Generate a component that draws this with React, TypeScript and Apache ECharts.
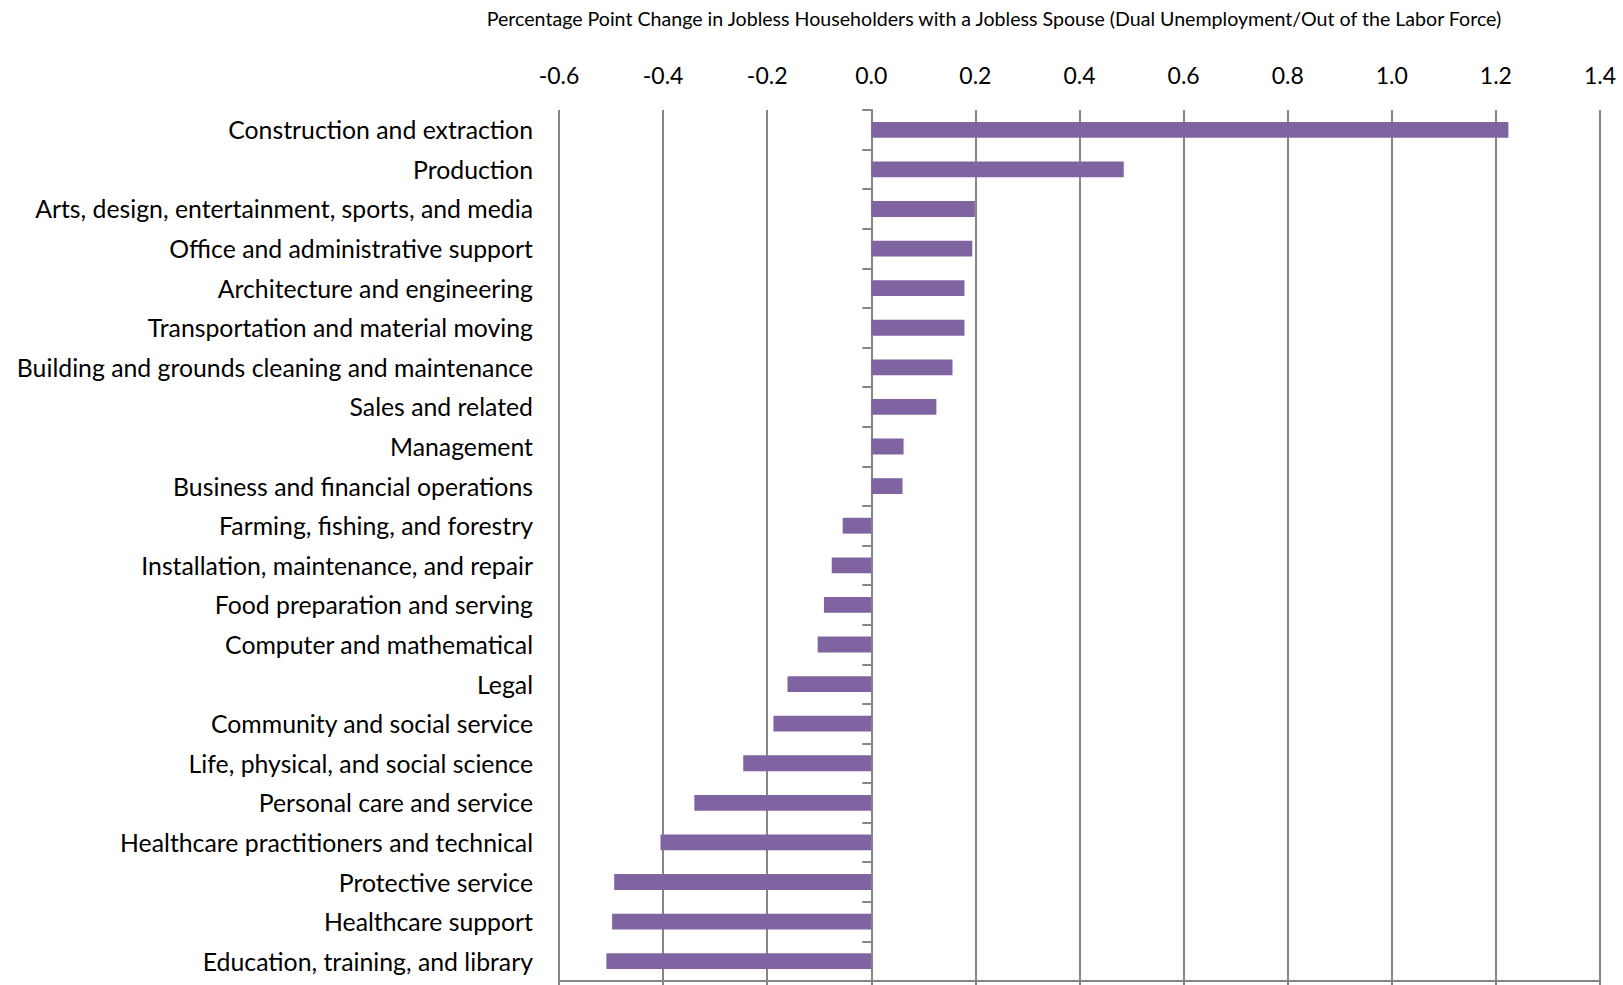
import React, { useEffect, useRef } from "react";
import * as echarts from "echarts";

const TITLE =
  "Percentage Point Change in Jobless Householders with a Jobless Spouse (Dual Unemployment/Out of the Labor Force)";

const categories = [
  "Construction and extraction",
  "Production",
  "Arts, design, entertainment, sports, and media",
  "Office and administrative support",
  "Architecture and engineering",
  "Transportation and material moving",
  "Building and grounds cleaning and maintenance",
  "Sales and related",
  "Management",
  "Business and financial operations",
  "Farming, fishing, and forestry",
  "Installation, maintenance, and repair",
  "Food preparation and serving",
  "Computer and mathematical",
  "Legal",
  "Community and social service",
  "Life, physical, and social science",
  "Personal care and service",
  "Healthcare practitioners and technical",
  "Protective service",
  "Healthcare support",
  "Education, training, and library",
];

const changeValues = [
  1.224, 0.485, 0.199, 0.194, 0.179, 0.179, 0.156, 0.125, 0.062, 0.06,
  -0.055, -0.076, -0.091, -0.103, -0.161, -0.188, -0.246, -0.34, -0.405,
  -0.494, -0.498, -0.509,
];

const axisMin = -0.6;
const axisMax = 1.4;
const axisStep = 0.2;

const FONT = "Lato";
const GRAY = "#868686";
const BAR = "#8064A2";

export default function App() {
  const ref = useRef<HTMLDivElement>(null);

  useEffect(() => {
    if (!ref.current) return;
    const chart = echarts.init(ref.current, undefined, { renderer: "svg" });
    chart.setOption({
      animation: false,
      backgroundColor: "#ffffff",
      textStyle: { fontFamily: FONT },
      graphic: [
        {
          type: "text",
          x: 994,
          y: 18,
          style: {
            text: TITLE,
            fontFamily: FONT,
            fontSize: 19.6,
            fill: "#000",
            align: "center",
            verticalAlign: "middle",
          },
        },
      ],
      grid: { left: 559, right: 23, top: 110, bottom: 4, containLabel: false },
      xAxis: [
        {
          type: "value",
          position: "top",
          min: axisMin,
          max: axisMax,
          interval: axisStep,
          axisLabel: {
            formatter: (v: number) => v.toFixed(1),
            fontSize: 23,
            color: "#000",
            fontFamily: FONT,
            margin: 24,
          },
          axisLine: { show: false },
          axisTick: { show: false },
          splitLine: { show: true, lineStyle: { color: GRAY, width: 2 } },
        },
        {
          type: "value",
          position: "bottom",
          min: axisMin,
          max: axisMax,
          interval: axisStep,
          axisLabel: { show: false },
          axisLine: { show: true, onZero: false, lineStyle: { color: GRAY, width: 2 } },
          axisTick: { show: true, length: 5, lineStyle: { color: GRAY, width: 2 } },
          splitLine: { show: false },
        },
      ],
      yAxis: [
        {
          type: "category",
          inverse: true,
          position: "left",
          data: categories,
          axisLabel: {
            fontSize: 24.8,
            color: "#000",
            fontFamily: FONT,
            margin: 26,
          },
          axisLine: { show: false },
          axisTick: { show: false },
          splitLine: { show: false },
        },
        {
          type: "category",
          inverse: true,
          position: "left",
          data: categories,
          axisLabel: { show: false },
          axisLine: {
            show: true,
            onZero: true,
            onZeroAxisIndex: 0,
            lineStyle: { color: GRAY, width: 2 },
          },
          axisTick: { show: true, length: 9, lineStyle: { color: GRAY, width: 2 } },
          splitLine: { show: false },
        },
      ],
      series: [
        {
          type: "bar",
          xAxisIndex: 0,
          yAxisIndex: 0,
          data: changeValues,
          barCategoryGap: "60%",
          itemStyle: { color: BAR },
        },
      ],
    });
    return () => chart.dispose();
  }, []);

  return (
    <div
      ref={ref}
      style={{ position: "absolute", left: 0, top: 0, width: 1623, height: 985 }}
    />
  );
}
